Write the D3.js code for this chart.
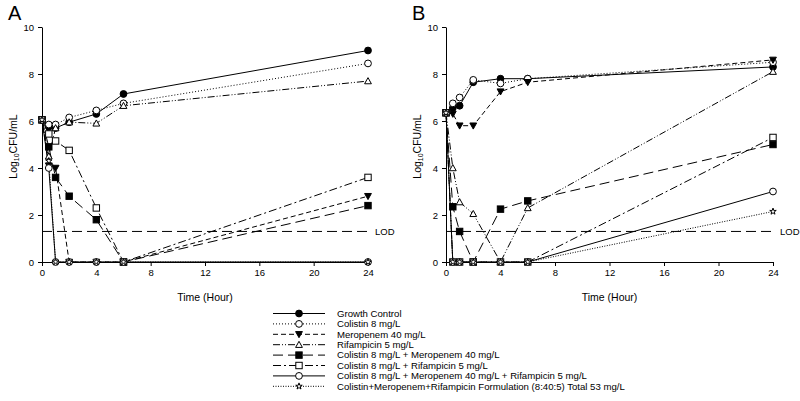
<!DOCTYPE html>
<html><head><meta charset="utf-8">
<script src="https://cdn.jsdelivr.net/npm/d3@7"></script>
<style>body{margin:0;background:#fff;}text{font-family:"Liberation Sans",Arial,sans-serif;fill:#000;}</style>
</head><body>
<svg id="c" width="800" height="401"></svg>
<script>
const seriesNames = ["Growth Control","Colistin 8 mg/L","Meropenem 40 mg/L","Rifampicin 5 mg/L",
 "Colistin 8 mg/L + Meropenem 40 mg/L","Colistin 8 mg/L + Rifampicin 5 mg/L",
 "Colistin 8 mg/L + Meropenem 40 mg/L + Rifampicin 5 mg/L",
 "Colistin+Meropenem+Rifampicin Formulation (8:40:5) Total 53 mg/L"];
const times = [0,0.5,1,2,4,6,24];
const panelA = [
 [6.05,5.75,5.7,5.95,6.3,7.15,9.0],
 [6.05,5.85,5.85,6.15,6.45,6.75,8.45],
 [6.05,4.1,4.0,0,0,0,2.8],
 [6.05,4.5,5.7,5.95,5.9,6.65,7.7],
 [6.05,4.9,3.6,2.8,1.8,0,2.4],
 [6.05,5.45,5.15,4.75,2.3,0,3.6],
 [6.05,4.0,0,0,0,0,0],
 [6.05,4.3,0,0,0,0,0]
];
const panelB = [
 [6.35,6.55,6.65,7.65,7.8,7.8,8.3],
 [6.35,6.75,7.0,7.75,7.6,7.8,8.5],
 [6.35,6.3,5.8,5.8,7.25,7.65,8.6],
 [6.35,4.0,2.55,2.05,0,2.3,8.1],
 [6.35,2.35,1.3,0,2.25,2.6,5.0],
 [6.35,0,0,0,0,0,5.3],
 [6.35,0,0,0,0,0,3.0],
 [6.35,0,0,0,0,0,2.15]
];
const xTicks = [0,4,8,12,16,20,24];
const yTicks = [0,2,4,6,8,10];
const LOD = 1.3;

const dashes = ["none","1,2","5,3","7,2,1,2,1,2","10,5","8,3,2,3","none","1,1.5"];
const markers = ["circleF","circleO","triDownF","triUpO","squareF","squareO","circleO","star"];

const svg = d3.select("#c");

function drawMarker(g, type, x, y){
  const s = 3.4;
  let el;
  if(type.startsWith("circle")){
    el = g.append("circle").attr("cx",x).attr("cy",y).attr("r",s);
  } else if(type.startsWith("square")){
    el = g.append("rect").attr("x",x-s+0.2).attr("y",y-s+0.2).attr("width",2*s-0.4).attr("height",2*s-0.4);
  } else if(type==="triDownF"){
    el = g.append("path").attr("d",`M${x-s},${y-s*0.8}L${x+s},${y-s*0.8}L${x},${y+s}Z`);
  } else if(type==="triUpO"){
    el = g.append("path").attr("d",`M${x-s},${y+s*0.8}L${x+s},${y+s*0.8}L${x},${y-s}Z`);
  } else if(type==="star"){
    el = g.append("path").attr("d",d3.symbol().type(d3.symbolStar).size(13)()).attr("transform",`translate(${x},${y})`);
  }
  const filled = type.endsWith("F");
  el.attr("fill", filled?"#000":"#fff").attr("stroke","#000").attr("stroke-width",1);
}

function panel(x0,x1,label,data){
  const x = d3.scaleLinear().domain([0,24]).range([x0,x1]);
  const y = d3.scaleLinear().domain([0,10]).range([262,27]);
  const g = svg.append("g");
  g.append("text").attr("x",x0-34).attr("y",20).attr("font-size",20).text(label);
  const ax = g.append("g").attr("transform","translate(0,262)")
    .call(d3.axisBottom(x).tickValues(xTicks).tickSize(4).tickSizeOuter(0).tickPadding(3));
  const ay = g.append("g").attr("transform",`translate(${x0},0)`)
    .call(d3.axisLeft(y).tickValues(yTicks).tickSize(4).tickSizeOuter(0).tickPadding(4));
  [ax,ay].forEach(a=>{a.selectAll("text").attr("font-size",9.5).attr("font-family","Liberation Sans, Arial, sans-serif");
    a.selectAll("path,line").attr("stroke","#000");});
  g.append("text").attr("x",(x0+x1)/2).attr("y",301).attr("text-anchor","middle").attr("font-size",10.5).text("Time (Hour)");
  const yl = g.append("text").attr("transform",`translate(${x0-25},${y(5)+2}) rotate(-90)`).attr("text-anchor","middle").attr("font-size",10.5);
  yl.append("tspan").text("Log");
  yl.append("tspan").attr("font-size",7).attr("dy",2).text("10");
  yl.append("tspan").attr("dy",-2).text("CFU/mL");
  // LOD
  g.append("line").attr("x1",x(0)).attr("x2",x(24)+2).attr("y1",y(LOD)).attr("y2",y(LOD))
    .attr("stroke","#000").attr("stroke-dasharray","10,5").attr("stroke-width",1);
  g.append("text").attr("x",x(24)+7).attr("y",y(LOD)+3.5).attr("font-size",9.5).text("LOD");
  const line = d3.line().x((d,i)=>x(times[i])).y(d=>y(d));
  data.forEach((s,k)=>{
    g.append("path").attr("d",line(s)).attr("fill","none").attr("stroke","#000").attr("stroke-width",1)
      .attr("stroke-dasharray",dashes[k]);
  });
  data.forEach((s,k)=>s.forEach((v,i)=>drawMarker(g,markers[k],x(times[i]),y(v))));
}
panel(42,368,"A",panelA);
panel(446,773,"B",panelB);

// legend
const lg = svg.append("g");
seriesNames.forEach((n,k)=>{
  const yy = 313.5 + k*10.4;
  lg.append("line").attr("x1",273).attr("x2",325).attr("y1",yy).attr("y2",yy)
    .attr("stroke","#000").attr("stroke-width",1).attr("stroke-dasharray",dashes[k]);
  drawMarker(lg,markers[k],299,yy);
  lg.append("text").attr("x",337).attr("y",yy+3.3).attr("font-size",9.6).text(n);
});
</script>
</body></html>
